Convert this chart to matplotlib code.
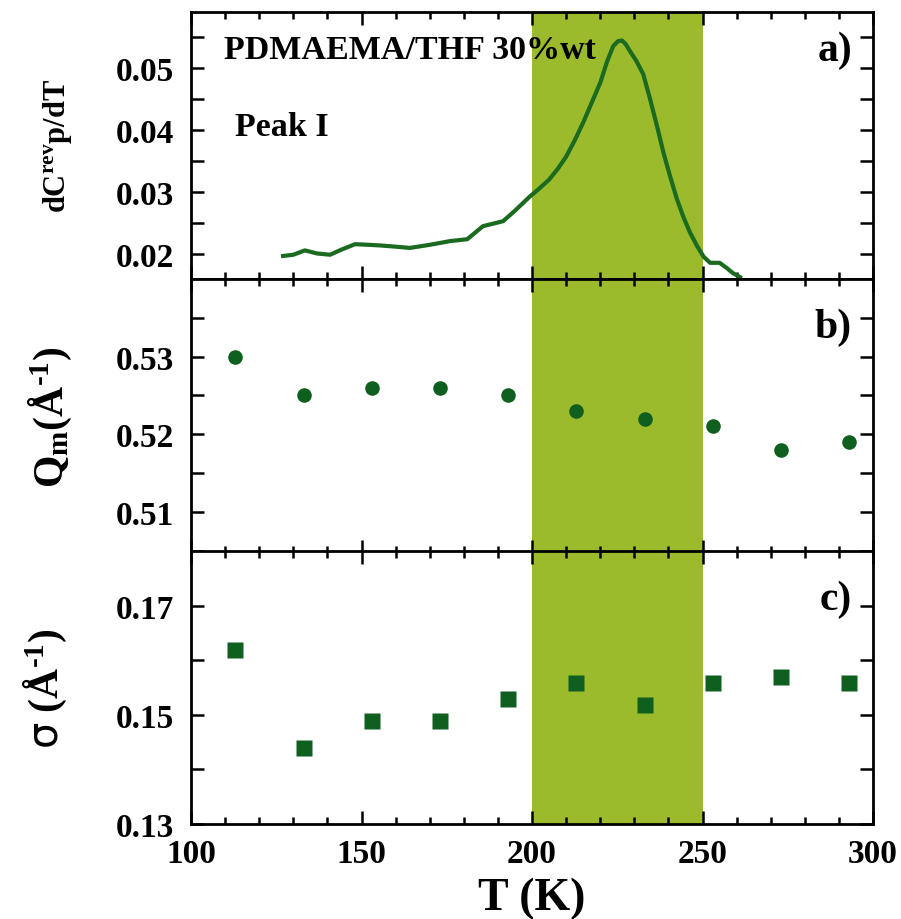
import matplotlib
matplotlib.use('Agg')
from matplotlib import pyplot as plt
from matplotlib.ticker import MultipleLocator

plt.rcParams['font.family'] = ['Liberation Serif', 'DejaVu Serif']
plt.rcParams['font.weight'] = 'bold'
plt.rcParams['axes.labelweight'] = 'bold'
plt.rcParams['mathtext.fontset'] = 'custom'
plt.rcParams['mathtext.rm'] = 'Liberation Serif:bold'
plt.rcParams['mathtext.it'] = 'Liberation Serif:bold'
plt.rcParams['mathtext.bf'] = 'Liberation Serif:bold'
plt.rcParams['mathtext.sf'] = 'DejaVu Sans:normal'
plt.rcParams['mathtext.default'] = 'rm'

# panel a: reversing heat capacity derivative
T_curve = [127, 130, 133.4, 137, 140.8, 144, 148.1, 152, 155.4, 160, 164.2, 170, 176,
           181, 185.6, 191.5, 195, 199.4, 202, 205, 207.5, 210, 212.5, 215, 217.5, 220,
           222, 223.8, 225.2, 226.4, 227.5, 228.7, 230.5, 232.6, 234.6, 236.7, 238.6,
           240.5, 242.4, 244.3, 246.3, 248.4, 250.3, 252.2, 255, 257, 259, 261]
dcp = [0.0197, 0.0199, 0.0206, 0.0201, 0.0199, 0.0207, 0.0216, 0.0215, 0.0214, 0.0212, 0.0210,
       0.0215, 0.0221, 0.0224, 0.0245, 0.0253, 0.0270, 0.0293, 0.0305, 0.0320, 0.0337,
       0.0357, 0.0383, 0.0412, 0.0444, 0.0476, 0.0510, 0.0535, 0.0543, 0.0544, 0.0538,
       0.0527, 0.0512, 0.0490, 0.0450, 0.0405, 0.0362, 0.0325, 0.0290, 0.0261, 0.0235,
       0.0213, 0.0196, 0.0186, 0.0186, 0.0178, 0.0169, 0.0163]

# panels b and c: fitted peak position and width
T_pts = [113, 133, 153, 173, 193, 213, 233, 253, 273, 293]
Q_m = [0.530, 0.525, 0.526, 0.526, 0.525, 0.523, 0.522, 0.521, 0.518, 0.519]
sigma = [0.1619, 0.1439, 0.1489, 0.1489, 0.1529, 0.1559, 0.1518, 0.1559, 0.1570, 0.1559]

shade = (200, 250)
shade_col = '#9bbb2c'
green = '#0f5f1f'

fig = plt.figure(figsize=(9.01, 9.2), dpi=100)
L, W = 0.212, 0.757
ax1 = fig.add_axes([L, 0.6957, W, 0.2902])
ax2 = fig.add_axes([L, 0.3978, W, 0.2979])
ax3 = fig.add_axes([L, 0.1033, W, 0.2967])

for ax in (ax1, ax2, ax3):
    ax.axvspan(*shade, color=shade_col, lw=0, zorder=0)
    ax.set_xlim(100, 300)
    ax.xaxis.set_major_locator(MultipleLocator(50))
    ax.xaxis.set_minor_locator(MultipleLocator(10))
    ax.tick_params(which='both', direction='in', top=True, right=True, width=1.8, labelsize=24)
    ax.tick_params(which='major', length=9.5)
    ax.tick_params(axis='y', pad=12)
    ax.tick_params(axis='x', pad=10)
    ax.tick_params(axis='x', which='minor', length=5)
    ax.tick_params(axis='y', which='minor', length=9.5)
    for s in ax.spines.values():
        s.set_linewidth(2)

ax1.plot(T_curve, dcp, color='#1a6b1f', lw=3)
ax1.set_ylim(0.016, 0.059)
ax1.set_yticks([0.02, 0.03, 0.04, 0.05])
ax1.set_yticks([0.025, 0.035, 0.045, 0.055], minor=True)
ax1.set_ylabel(r'dC$^{rev}$p/dT', fontsize=22)
ax1.yaxis.set_label_coords(-0.172, 0.5)
ax1.text(0.048, 0.86, 'PDMAEMA/THF 30%wt', transform=ax1.transAxes, fontsize=24.5, va='center')
ax1.text(0.065, 0.57, 'Peak I', transform=ax1.transAxes, fontsize=24.5, va='center')
ax1.text(0.969, 0.86, 'a)', transform=ax1.transAxes, fontsize=30, va='center', ha='right')
ax1.tick_params(labelbottom=False)

ax2.plot(T_pts, Q_m, 'o', color=green, ms=10.5, mec='none')
ax2.set_ylim(0.5047, 0.540)
ax2.set_yticks([0.51, 0.52, 0.53])
ax2.set_yticks([0.505, 0.515, 0.525, 0.535], minor=True)
ax2.set_ylabel(r'Q$_{m}$(Å$^{\text{-1}}$)', fontsize=30)
ax2.yaxis.set_label_coords(-0.171, 0.5)
ax2.text(0.969, 0.825, 'b)', transform=ax2.transAxes, fontsize=30, va='center', ha='right')
ax2.tick_params(labelbottom=False)

ax3.plot(T_pts, sigma, 's', color=green, ms=11, mec='none')
ax3.set_ylim(0.13, 0.180)
ax3.set_yticks([0.13, 0.15, 0.17])
ax3.set_yticks([0.14, 0.16], minor=True)
ax3.set_ylabel(r'$\mathsf{\sigma}$ (Å$^{\text{-1}}$)', fontsize=30)
ax3.yaxis.set_label_coords(-0.179, 0.5)
ax3.text(0.969, 0.824, 'c)', transform=ax3.transAxes, fontsize=30, va='center', ha='right')
ax3.set_xlabel('T (K)', fontsize=33, labelpad=6)

fig.savefig('out.png', dpi=100)
